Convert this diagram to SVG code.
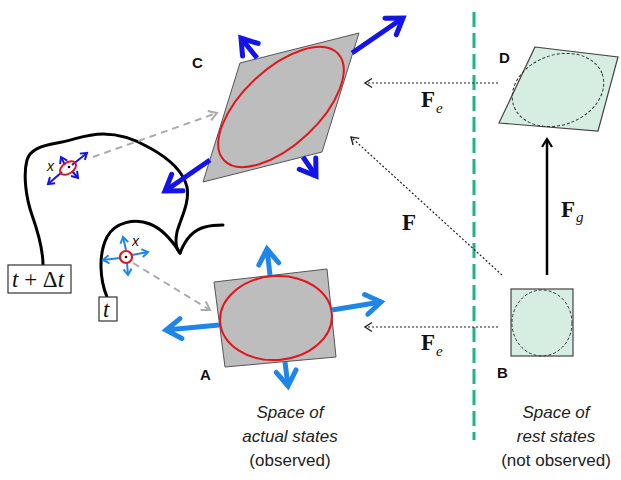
<svg xmlns="http://www.w3.org/2000/svg" width="621" height="480" viewBox="0 0 621 480">
<style>
.curve{fill:none;stroke:#000;stroke-width:3;stroke-linecap:round;stroke-linejoin:round}
.shape{fill:#bdbdbd;stroke:#555;stroke-width:1}
.rest{fill:#d6eee1;stroke:#444;stroke-width:1.2}
.red{fill:none;stroke:#e2171e;stroke-width:2}
.dash{fill:none;stroke:#333;stroke-width:1;stroke-dasharray:3 2}
.darkb{fill:none;stroke:#1414e6;stroke-width:5;marker-end:url(#hd)}
.lightb{fill:none;stroke:#1f86e8;stroke-width:5;marker-end:url(#hl)}
.cellk{fill:none;stroke:#1414e6;stroke-width:2;marker-end:url(#hcd)}
.celll{fill:none;stroke:#1f86e8;stroke-width:2;marker-end:url(#hcl)}
.grey{fill:none;stroke:#aaa;stroke-width:2;stroke-dasharray:7 5;marker-end:url(#hg)}
.dot{fill:none;stroke:#222;stroke-width:1.2;stroke-dasharray:2 2;marker-end:url(#hk)}
.lab{font-family:"Liberation Sans",Arial,sans-serif;font-weight:bold;font-size:15px;fill:#111}
.F{font-family:"Liberation Serif","Times New Roman",serif;font-weight:bold;font-size:23px;fill:#111}
.sub{font-family:"Liberation Serif","Times New Roman",serif;font-style:italic;font-size:15px;fill:#111}
.cap{font-family:"Liberation Sans",Arial,sans-serif;font-size:17px;fill:#222;text-anchor:middle}
.tt{font-family:"Liberation Serif","Times New Roman",serif;font-size:23px;fill:#111}
.xl{font-family:"Liberation Sans",Arial,sans-serif;font-style:italic;font-size:14px;fill:#111}
</style>
<defs>
<marker id="hd" markerUnits="userSpaceOnUse" markerWidth="40" markerHeight="40" viewBox="-25 -20 40 40" refX="0" refY="0" orient="auto"><path d="M-15,-10 L0,0 L-15,10" fill="none" stroke="#1414e6" stroke-width="5" stroke-linecap="round"/></marker>
<marker id="hl" markerUnits="userSpaceOnUse" markerWidth="40" markerHeight="40" viewBox="-25 -20 40 40" refX="0" refY="0" orient="auto"><path d="M-15,-10 L0,0 L-15,10" fill="none" stroke="#1f86e8" stroke-width="5" stroke-linecap="round"/></marker>
<marker id="hcd" markerUnits="userSpaceOnUse" markerWidth="20" markerHeight="20" viewBox="-10 -10 20 20" refX="0" refY="0" orient="auto"><path d="M-6,-4 L0,0 L-6,4" fill="none" stroke="#1414e6" stroke-width="2"/></marker>
<marker id="hcl" markerUnits="userSpaceOnUse" markerWidth="20" markerHeight="20" viewBox="-10 -10 20 20" refX="0" refY="0" orient="auto"><path d="M-6,-4 L0,0 L-6,4" fill="none" stroke="#1f86e8" stroke-width="2"/></marker>
<marker id="hg" markerUnits="userSpaceOnUse" markerWidth="20" markerHeight="20" viewBox="-10 -10 20 20" refX="0" refY="0" orient="auto"><path d="M-8,-5 L0,0 L-8,5" fill="none" stroke="#aaa" stroke-width="2"/></marker>
<marker id="hk" markerUnits="userSpaceOnUse" markerWidth="20" markerHeight="20" viewBox="-10 -10 20 20" refX="0" refY="0" orient="auto"><path d="M-7,-4.5 L0,0 L-7,4.5" fill="none" stroke="#222" stroke-width="1.4"/></marker>
<marker id="hs" markerUnits="userSpaceOnUse" markerWidth="20" markerHeight="20" viewBox="-10 -10 20 20" refX="0" refY="0" orient="auto"><path d="M-8,-5 L0,0 L-8,5" fill="none" stroke="#000" stroke-width="2.2"/></marker>
</defs>

<g id="divider"><line x1="474" y1="12" x2="474" y2="440" stroke="#1fb386" stroke-width="3" stroke-dasharray="15 6"/></g>

<g id="body-curves">
<path class="curve" d="M43,265 C43,248 38,232 32,215 C26,198 23,175 27,160 C30,150 40,146 57,143 C75,140 85,134 103,134 C120,134 135,139 150,148 C168,158 183,170 187,187 C190,203 180,220 177,232 C175,242 176,249 180,253"/>
<path class="curve" d="M107,297 C100,280 98,255 107,237 C115,222 135,218 150,224 C165,230 175,245 180,253"/>
<path class="curve" d="M180,253 C185,240 192,230 205,227 C212,225 218,225 223,225"/>
</g>

<g id="box-tdt"><rect x="8" y="265" width="63" height="28" fill="#fff" stroke="#333" stroke-width="1.2"/><text class="tt" x="12" y="287"><tspan font-style="italic">t</tspan> + Δ<tspan font-style="italic">t</tspan></text></g>
<g id="box-t"><rect x="99" y="297" width="18" height="24" fill="#fff" stroke="#333" stroke-width="1.2"/><text class="tt" x="103" y="317" font-style="italic">t</text></g>

<g id="cell-1">
<path class="cellk" d="M72,165 L87,153"/>
<path class="cellk" d="M62,172 L48,184"/>
<path class="cellk" d="M65,165 L61,157"/>
<path class="cellk" d="M72,171 L78,178"/>
<ellipse class="red" cx="68" cy="168" rx="9" ry="5.5" transform="rotate(-35 68 168)"/>
<circle cx="69" cy="167" r="1.3" fill="#000"/>
<text class="xl" x="47" y="171">x</text>
</g>

<g id="cell-2">
<path class="celll" d="M126,250 L123,237"/>
<path class="celll" d="M127,263 L128,275"/>
<path class="celll" d="M120,258 L103,260"/>
<path class="celll" d="M132,255 L148,252"/>
<circle cx="126" cy="257" r="6" fill="#fff" stroke="#e2171e" stroke-width="2.2"/>
<circle cx="126" cy="257" r="1.3" fill="#000"/>
<text class="xl" x="132" y="246">x</text>
</g>

<g id="node-C">
<path class="shape" d="M240,63 L359,33 L322,152 L203,182 Z"/>
<ellipse class="red" cx="281" cy="107" rx="78" ry="38" transform="rotate(-43 281 107)"/>
<path class="darkb" d="M352,53 L403,18"/>
<path class="darkb" d="M210,160 L165,191"/>
<path class="darkb" d="M257,58 L241,38"/>
<path class="darkb" d="M303,157 L316,176"/>
<text class="lab" x="192" y="68">C</text>
</g>

<g id="node-A">
<path class="shape" d="M214,282 L327,269 L336,357 L225,367 Z"/>
<ellipse class="red" cx="276" cy="318" rx="56" ry="42" transform="rotate(-4 276 318)"/>
<path class="lightb" d="M270,275 L267,249"/>
<path class="lightb" d="M332,310 L381,302"/>
<path class="lightb" d="M219,325 L166,330"/>
<path class="lightb" d="M285,362 L288,386"/>
<text class="lab" x="200" y="380">A</text>
</g>

<g id="node-D">
<path class="rest" d="M535,47 L618,57 L598,131 L499,123 Z"/>
<ellipse class="dash" cx="558" cy="90" rx="47" ry="35" transform="rotate(-20 558 90)"/>
<text class="lab" x="499" y="63">D</text>
</g>

<g id="node-B">
<rect class="rest" x="511" y="289" width="62" height="67"/>
<ellipse class="dash" cx="542" cy="323" rx="30" ry="33"/>
<text class="lab" x="497" y="378">B</text>
</g>

<g id="connectors">
<path class="grey" d="M93,157 L217,113"/>
<path class="grey" d="M133,263 L210,310"/>
<path class="dot" d="M498,83 L365,83"/>
<path class="dot" d="M498,327 L365,327"/>
<path class="dot" d="M502,275 L351,137"/>
<path d="M547,275 L547,139" fill="none" stroke="#000" stroke-width="2.5" marker-end="url(#hs)"/>
</g>

<g id="labels">
<text class="F" x="421" y="107">F</text><text class="sub" x="436" y="113">e</text>
<text class="F" x="421" y="350">F</text><text class="sub" x="436" y="356">e</text>
<text class="F" x="402" y="230">F</text>
<text class="F" x="561" y="217">F</text><text class="sub" x="576" y="222">g</text>
<text class="cap" x="290" y="418"><tspan font-style="italic">Space of</tspan></text>
<text class="cap" x="290" y="442" font-style="italic">actual states</text>
<text class="cap" x="290" y="466">(observed)</text>
<text class="cap" x="556" y="418" font-style="italic">Space of</text>
<text class="cap" x="556" y="442" font-style="italic">rest states</text>
<text class="cap" x="556" y="466">(not observed)</text>
</g>
</svg>
